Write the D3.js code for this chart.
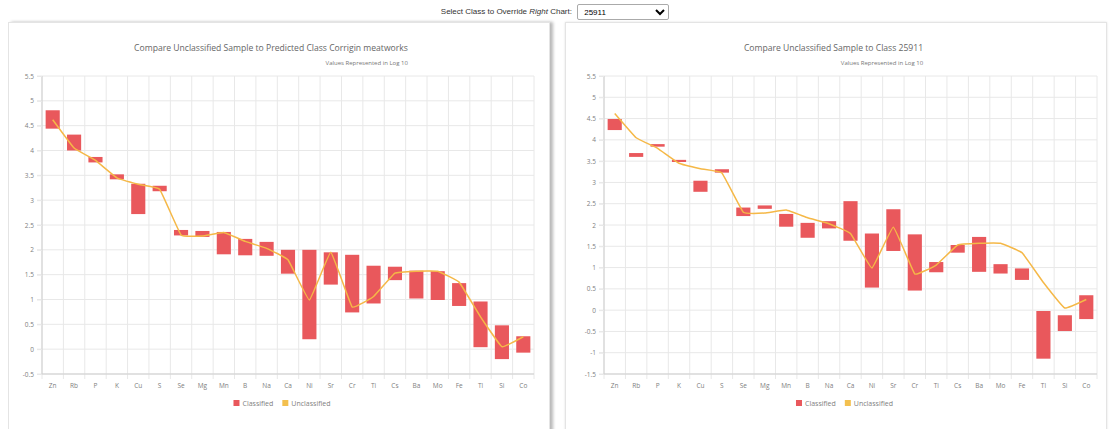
<!DOCTYPE html>
<html>
<head>
<meta charset="utf-8">
<script src="https://cdn.jsdelivr.net/npm/d3@7"></script>
<style>
  body { margin: 0; width: 1110px; height: 429px; overflow: hidden; background: #fff; font-family: "Open Sans", sans-serif; }
  .top { position: absolute; left: 0; top: 4px; width: 1110px; text-align: center; font-family: Arial, "Liberation Sans", sans-serif; font-size: 8px; color: #333; }
  .top select { font-size: 8px; width: 92px; height: 16px; margin-left: 3px; vertical-align: middle; border: 1px solid #aaa; border-radius: 2px; background: #fff; padding: 0 2px; }
  .panel { position: absolute; top: 22px; height: 430px; background: #fff; border: 1px solid #e4e4e4; }
  #p1 { left: 8px; width: 540px; box-shadow: 3px 0 3px rgba(0,0,0,0.28); }
  #p2 { left: 565px; width: 540px; box-shadow: 0 0 2px rgba(0,0,0,0.12); }
  svg { position: absolute; left: 0; top: 0; }
</style>
</head>
<body>
<div class="top">Select Class to Override <i>Right</i> Chart: <select><option>25911</option></select></div>
<div class="panel" id="p1"></div>
<div class="panel" id="p2"></div>
<svg id="chart" width="1110" height="429"></svg>
<script>
// element categories on the x axis
const categories = ["Zn","Rb","P","K","Cu","S","Se","Mg","Mn","B","Na","Ca","Ni","Sr","Cr","Ti","Cs","Ba","Mo","Fe","Tl","Si","Co"];

// unclassified sample (line), same in both charts
const unclassified = [4.62,4.05,3.8,3.45,3.32,3.22,2.3,2.28,2.35,2.17,2.03,1.8,0.99,1.95,0.85,1.06,1.53,1.57,1.57,1.35,0.65,0.05,0.25];

// predicted class Corrigin meatworks (floating bars low/high)
const leftHigh = [4.81,4.32,3.87,3.52,3.33,3.29,2.40,2.38,2.36,2.22,2.16,2.0,2.0,1.95,1.90,1.68,1.66,1.58,1.57,1.33,0.96,0.48,0.26];
const leftLow  = [4.44,4.0,3.76,3.42,2.72,3.18,2.29,2.26,1.91,1.89,1.88,1.52,0.2,1.30,0.74,0.92,1.39,1.02,0.99,0.87,0.04,-0.2,-0.07];

// class 25911
const rightHigh = [4.49,3.69,3.90,3.53,3.04,3.31,2.41,2.46,2.26,2.05,2.09,2.56,1.80,2.37,1.78,1.13,1.53,1.72,1.08,0.98,-0.02,-0.12,0.35];
const rightLow  = [4.23,3.60,3.84,3.48,2.78,3.23,2.21,2.38,1.96,1.70,1.92,1.63,0.53,1.39,0.46,0.89,1.35,0.90,0.86,0.71,-1.14,-0.49,-0.21];

const leftTicks = d3.range(-0.5, 5.51, 0.5);
const rightTicks = d3.range(-1.5, 5.51, 0.5);

const barColor = "#e9585c";
const lineColor = "#f5b847";
const gridColor = "#e8e8e8";
const textColor = "#808080";

const svg = d3.select("#chart");

function drawChart(cfg) {
  const g = svg.append("g");
  const top = 76, bottom = 374;

  const x = d3.scaleBand()
      .domain(categories)
      .range([cfg.x0, cfg.x1])
      .paddingInner(0.34)
      .paddingOuter(0.17);
  const step = x.step();
  const cellLeft = c => x(c) - step * 0.17;

  const y = d3.scaleLinear()
      .domain([cfg.ticks[0], cfg.ticks[cfg.ticks.length - 1]])
      .range([bottom, top]);

  // horizontal grid
  g.append("g").selectAll("line")
    .data(cfg.ticks)
    .join("line")
      .attr("x1", cfg.x0 - 5).attr("x2", cfg.x1)
      .attr("y1", d => y(d)).attr("y2", d => y(d))
      .attr("stroke", gridColor).attr("stroke-width", 1);

  // vertical grid at category boundaries
  g.append("g").selectAll("line")
    .data(categories.concat(["_end"]))
    .join("line")
      .attr("x1", (d, i) => i < categories.length ? cellLeft(d) : cfg.x1)
      .attr("x2", (d, i) => i < categories.length ? cellLeft(d) : cfg.x1)
      .attr("y1", top).attr("y2", bottom + 5)
      .attr("stroke", gridColor).attr("stroke-width", 1);

  // axis lines
  g.append("line")
    .attr("x1", cfg.x0).attr("x2", cfg.x0).attr("y1", top).attr("y2", bottom)
    .attr("stroke", "#cfcfcf");
  g.append("line")
    .attr("x1", cfg.x0).attr("x2", cfg.x1).attr("y1", bottom).attr("y2", bottom)
    .attr("stroke", "#cfcfcf");

  // y axis labels
  const ya = g.append("g")
    .attr("transform", `translate(${cfg.x0},0)`)
    .call(d3.axisLeft(y).tickValues(cfg.ticks).tickFormat(d => String(d)).tickSize(5).tickPadding(3));
  ya.select(".domain").remove();
  ya.selectAll("line").attr("stroke", gridColor);
  ya.selectAll("text").attr("fill", textColor).style("font-size", "6.5px").style("font-family", "Open Sans");

  // x axis labels
  const xa = g.append("g")
    .attr("transform", `translate(0,${bottom})`)
    .call(d3.axisBottom(x).tickSize(0).tickPadding(9));
  xa.select(".domain").remove();
  xa.selectAll("text").attr("fill", textColor).style("font-size", "6.5px").style("font-family", "Open Sans");

  // floating bars
  g.append("g").selectAll("rect")
    .data(categories)
    .join("rect")
      .attr("x", d => x(d))
      .attr("width", x.bandwidth())
      .attr("y", (d, i) => y(cfg.high[i]))
      .attr("height", (d, i) => y(cfg.low[i]) - y(cfg.high[i]))
      .attr("fill", barColor);

  // unclassified line
  const line = d3.line()
      .x((d, i) => x(categories[i]) + x.bandwidth() / 2)
      .y(d => y(d))
      .curve(d3.curveCardinal.tension(0.75));
  g.append("path")
    .datum(unclassified)
    .attr("d", line)
    .attr("fill", "none")
    .attr("stroke", lineColor)
    .attr("stroke-width", 1.5);

  // title + subtitle
  const mid = (cfg.x0 + cfg.x1) / 2;
  const title = g.append("text")
    .attr("x", mid - 17).attr("y", 51)
    .attr("text-anchor", "middle")
    .attr("fill", "#666")
    .style("font-size", "8.6px")
    .text(cfg.title);
  const tb = title.node().getBBox();
  g.append("text")
    .attr("x", tb.x + tb.width).attr("y", 65)
    .attr("text-anchor", "end")
    .attr("fill", "#777")
    .style("font-size", "6px")
    .text("Values Represented in Log 10");

  // legend
  const legend = g.append("g");
  const items = [{ label: "Classified", color: barColor }, { label: "Unclassified", color: "#f3c04f" }];
  let lx = 0;
  items.forEach(it => {
    legend.append("rect").attr("x", lx).attr("y", 400).attr("width", 6).attr("height", 6).attr("fill", it.color);
    const t = legend.append("text").attr("x", lx + 9).attr("y", 406)
      .attr("fill", textColor).style("font-size", "7px").text(it.label);
    lx += 9 + t.node().getComputedTextLength() + 9;
  });
  const lw = lx - 9;
  legend.attr("transform", `translate(${mid - 6 - lw / 2},0)`);
}

drawChart({ x0: 42, x1: 534, ticks: leftTicks, high: leftHigh, low: leftLow,
  title: "Compare Unclassified Sample to Predicted Class Corrigin meatworks" });
drawChart({ x0: 604, x1: 1097, ticks: rightTicks, high: rightHigh, low: rightLow,
  title: "Compare Unclassified Sample to Class 25911" });
</script>
</body>
</html>
